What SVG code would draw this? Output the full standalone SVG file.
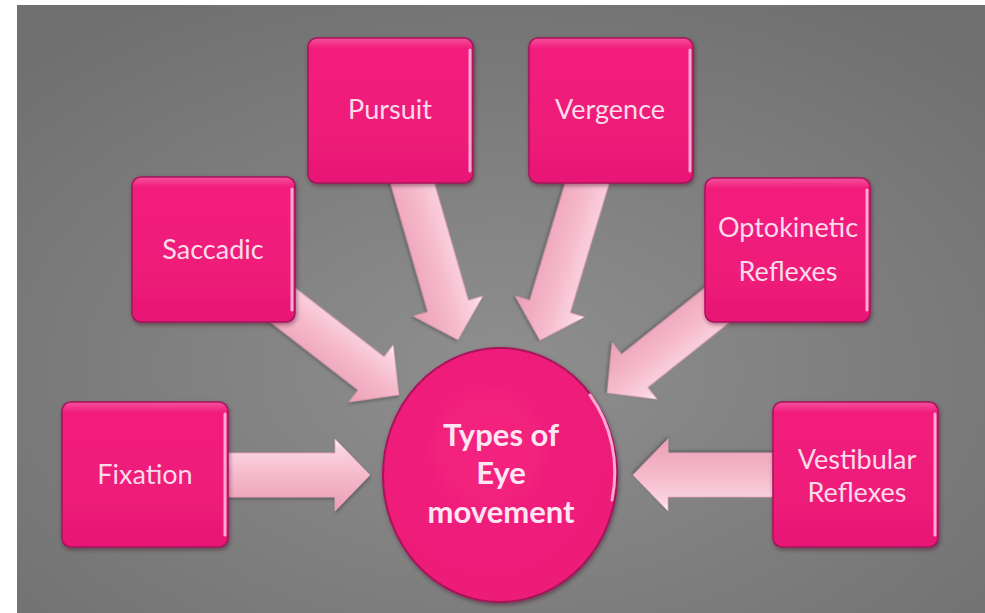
<svg xmlns="http://www.w3.org/2000/svg" width="985" height="613" viewBox="0 0 985 613">
  <defs>
    <radialGradient id="bg" cx="50%" cy="60%" r="70%">
      <stop offset="0" stop-color="#8f8f8f"/>
      <stop offset="1" stop-color="#707070"/>
    </radialGradient>
    <linearGradient id="boxFill" x1="0" y1="0" x2="0" y2="1">
      <stop offset="0" stop-color="#f6509c"/>
      <stop offset="0.07" stop-color="#f21f7d"/>
      <stop offset="0.6" stop-color="#ef1b7a"/>
      <stop offset="1" stop-color="#e81876"/>
    </linearGradient>
    <linearGradient id="arrowFill" x1="0" y1="0" x2="0" y2="1">
      <stop offset="0" stop-color="#ffffff"/>
      <stop offset="0.12" stop-color="#fbd6e2"/>
      <stop offset="0.5" stop-color="#f5b9cb"/>
      <stop offset="1" stop-color="#ec9fb6"/>
    </linearGradient>
    <radialGradient id="circleFill" cx="45%" cy="40%" r="60%">
      <stop offset="0" stop-color="#f4237f"/>
      <stop offset="1" stop-color="#ec1a78"/>
    </radialGradient>
    <filter id="shadow" x="-10%" y="-10%" width="125%" height="125%">
      <feDropShadow dx="1" dy="2" stdDeviation="2" flood-color="#3a0020" flood-opacity="0.45"/>
    </filter>
    <filter id="ashadow" x="-10%" y="-20%" width="125%" height="140%">
      <feDropShadow dx="1" dy="2" stdDeviation="1.5" flood-color="#303030" flood-opacity="0.4"/>
    </filter>
  </defs>
  <style>
    .box { fill: url(#boxFill); stroke: #a8125a; stroke-width: 1.5; filter: url(#shadow); }
    .hl { fill: none; stroke: #fba8d2; stroke-width: 3; stroke-linecap: round; }
    .arrow { fill: url(#arrowFill); stroke: #e7a2b8; stroke-width: 0.8; filter: url(#ashadow); }
    .lbl { font-family: Lato, "Open Sans", "Liberation Sans", sans-serif; font-size: 27px; fill: #fadbe9; text-anchor: middle; }
    .ctr { font-family: Lato, "Open Sans", "Liberation Sans", sans-serif; font-size: 31px; font-weight: bold; fill: #fde6f1; text-anchor: middle; }
  </style>

  <rect x="0" y="0" width="985" height="613" fill="#ffffff"/>
  <rect x="17" y="5" width="968" height="608" fill="url(#bg)"/>

  <g id="connectors">
    <polygon class="arrow" transform="translate(215,475) rotate(0)" points="0,-22 120,-22 120,-36 155,0 120,36 120,22 0,22"/>
    <polygon class="arrow" transform="translate(785,475) rotate(180)" points="0,-22 117,-22 117,-36 152,0 117,36 117,22 0,22"/>
    <polygon class="arrow" transform="translate(407,164) rotate(73.84)" points="0,-21 148,-21 148,-36 183,0 148,36 148,21 0,21"/>
    <polygon class="arrow" transform="translate(593,164) rotate(106.76)" points="0,-21 149,-21 149,-36 184,0 149,36 149,21 0,21"/>
    <polygon class="arrow" transform="translate(270,295) rotate(37.78)" points="0,-21 128,-21 128,-36 163,0 128,36 128,21 0,21"/>
    <polygon class="arrow" transform="translate(730,295) rotate(141.45)" points="0,-21 122,-21 122,-36 157,0 122,36 122,21 0,21"/>
  </g>

  <g id="center">
    <ellipse cx="500" cy="475" rx="117" ry="127" fill="url(#circleFill)" stroke="#a8125a" stroke-width="2" filter="url(#shadow)"/>
    <path d="M 590 395 A 115 125 0 0 1 612 500" class="hl" stroke-width="2.5"/>
    <text class="ctr" x="501" y="446">Types of</text>
    <text class="ctr" x="501" y="484">Eye</text>
    <text class="ctr" x="501" y="523">movement</text>
  </g>

  <g id="fixation">
    <rect class="box" x="62" y="402" width="166" height="145" rx="9"/>
    <line class="hl" x1="225" y1="414" x2="225" y2="535"/>
    <text class="lbl" x="145" y="484">Fixation</text>
  </g>

  <g id="saccadic">
    <rect class="box" x="132" y="177" width="163" height="145" rx="9"/>
    <line class="hl" x1="292" y1="189" x2="292" y2="310"/>
    <text class="lbl" x="213" y="259">Saccadic</text>
  </g>

  <g id="pursuit">
    <rect class="box" x="308" y="38" width="165" height="145" rx="9"/>
    <line class="hl" x1="470" y1="50" x2="470" y2="171"/>
    <text class="lbl" x="390" y="119">Pursuit</text>
  </g>

  <g id="vergence">
    <rect class="box" x="529" y="38" width="164" height="145" rx="9"/>
    <line class="hl" x1="690" y1="50" x2="690" y2="171"/>
    <text class="lbl" x="610" y="119">Vergence</text>
  </g>

  <g id="optokinetic">
    <rect class="box" x="705" y="178" width="165" height="144" rx="9"/>
    <line class="hl" x1="867" y1="190" x2="867" y2="310"/>
    <text class="lbl" x="788" y="237">Optokinetic</text>
    <text class="lbl" x="788" y="281">Reflexes</text>
  </g>

  <g id="vestibular">
    <rect class="box" x="773" y="402" width="165" height="145" rx="9"/>
    <line class="hl" x1="935" y1="414" x2="935" y2="535"/>
    <text class="lbl" x="857" y="469">Vestibular</text>
    <text class="lbl" x="857" y="502">Reflexes</text>
  </g>
</svg>
